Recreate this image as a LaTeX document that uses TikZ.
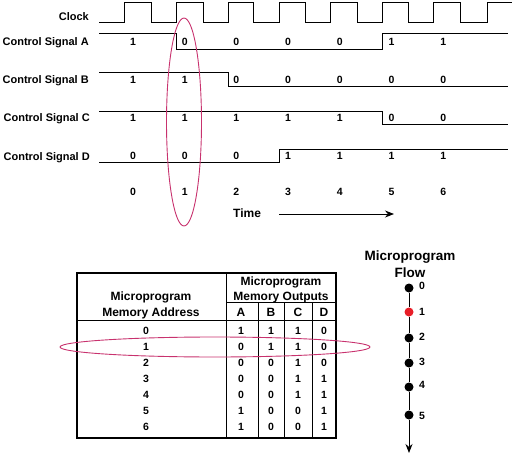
\documentclass[tikz,border=0pt]{standalone}
\usepackage{fontspec}
\setmainfont{Liberation Sans}
\usetikzlibrary{arrows.meta}
\definecolor{ellc}{RGB}{200,50,110}
\definecolor{redc}{RGB}{232,30,40}
\begin{document}
\begin{tikzpicture}[x=1pt,y=-1pt,
  lbl/.style={font=\fontsize{11}{13}\selectfont\bfseries, inner sep=0pt, text height=7.9pt, text depth=0pt},
  dig/.style={font=\fontsize{10.5}{12}\selectfont\bfseries, inner sep=0pt, text height=7.5pt, text depth=0pt},
  hdr/.style={font=\fontsize{12}{14}\selectfont\bfseries, inner sep=0pt, text height=8.6pt, text depth=0pt},
  ttl/.style={font=\fontsize{13.5}{15}\selectfont\bfseries, inner sep=0pt, text height=9.7pt, text depth=0pt},
  wave/.style={line width=0.9pt, line join=miter},
  thin/.style={line width=0.9pt},
  ring/.style={draw=ellc, line width=0.9pt},
  dot/.style={circle, fill=black, minimum size=9pt, inner sep=0pt},
  reddot/.style={circle, fill=redc, minimum size=9pt, inner sep=0pt}]
\useasboundingbox (0,0) rectangle (512,455);
% ---- labels
\node[lbl, anchor=east] (lclk) at (89,17) {Clock};
\node[lbl, anchor=east] (lA) at (89,42) {Control Signal A};
\node[lbl, anchor=east] (lB) at (89,80) {Control Signal B};
\node[lbl, anchor=east] (lC) at (90,118) {Control Signal C};
\node[lbl, anchor=east] (lD) at (90,157) {Control Signal D};
% ---- clock
\draw[wave] (99,22) -- (124,22) -- (124,2) -- (151,2) -- (151,22)
  -- (176,22) -- (176,2) -- (203,2) -- (203,22)
  -- (228,22) -- (228,2) -- (253,2) -- (253,22)
  -- (279,22) -- (279,2) -- (305,2) -- (305,22)
  -- (330,22) -- (330,2) -- (357,2) -- (357,22)
  -- (382,22) -- (382,2) -- (408,2) -- (408,22)
  -- (433,22) -- (433,2) -- (460,2) -- (460,22)
  -- (487,22) -- (487,2) -- (512,2);
% ---- signals
\draw[wave] (99,33) -- (176,33) -- (176,49) -- (382,49) -- (382,33) -- (508,33);
\draw[wave] (99,72) -- (228,72) -- (228,86) -- (508,86);
\draw[wave] (99,111) -- (382,111) -- (382,124) -- (508,124);
\draw[wave] (99,162) -- (279,162) -- (279,149) -- (508,149);
% ---- values
\foreach \i/\a/\b/\c/\d in {0/1/1/1/0,1/0/1/1/0,2/0/0/1/0,3/0/0/1/1,4/0/0/1/1,5/1/0/0/1,6/1/0/0/1}{
  \pgfmathsetmacro{\xx}{133+51.7*\i}
  \node[dig] (a\i) at (\xx,42) {\a};
  \node[dig] (b\i) at (\xx,80) {\b};
  \node[dig] (c\i) at (\xx,118) {\c};
  \node[dig] (d\i) at (\xx,156) {\d};
  \node[dig] (t\i) at (\xx,192) {\i};
}
% ---- time arrow
\node[hdr, anchor=west] (time) at (233,213) {Time};
\coordinate (ta) at (279,214);
\coordinate (tb) at (394,214);
\draw[thin, -{Stealth[length=9pt,width=7pt]}] (ta) -- (tb);
% ---- vertical ellipse
\draw[ring] (184,122) ellipse [x radius=17.5pt, y radius=104pt];
% ---- table
\draw[line width=1.9pt] (77,273) rectangle (336,438);
\draw[thin] (226,273) -- (226,438);
\draw[thin] (226,302) -- (336,302);
\draw[thin] (77,320) -- (336,320);
\foreach \xx in {258,284,312}{ \draw[thin] (\xx,302) -- (\xx,438); }
\node[hdr] (h1) at (151,296) {Microprogram};
\node[hdr] (h2) at (151,312) {Memory Address};
\node[hdr] (h3) at (281,281) {Microprogram};
\node[hdr] (h4) at (281,296) {Memory Outputs};
\node[hdr] (hA) at (241,312) {A};
\node[hdr] (hB) at (271,312) {B};
\node[hdr] (hC) at (298,312) {C};
\node[hdr] (hD) at (324,312) {D};
\foreach \i/\a/\b/\c/\d in {0/1/1/1/0,1/0/1/1/0,2/0/0/1/0,3/0/0/1/1,4/0/0/1/1,5/1/0/0/1,6/1/0/0/1}{
  \pgfmathsetmacro{\yy}{331+16*\i}
  \node[dig] (ra\i) at (146,\yy) {\i};
  \node[dig] (rA\i) at (241,\yy) {\a};
  \node[dig] (rB\i) at (271,\yy) {\b};
  \node[dig] (rC\i) at (298,\yy) {\c};
  \node[dig] (rD\i) at (324,\yy) {\d};
}
% ---- horizontal ellipse
\draw[ring] (215,347) ellipse [x radius=155pt, y radius=10pt];
% ---- flow
\node[ttl] (ft1) at (410,256) {Microprogram};
\node[ttl] (ft2) at (410,273) {Flow};
\coordinate (fend) at (409,453);
\node[dot] (f0) at (409,288) {};
\node[reddot] (f1) at (409,312) {};
\node[dot] (f2) at (409,338) {};
\node[dot] (f3) at (409,363) {};
\node[dot] (f4) at (409,387) {};
\node[dot] (f5) at (409,415) {};
\draw[thin] (f0) -- (f1) -- (f2) -- (f3) -- (f4) -- (f5);
\draw[thin, -{Stealth[length=9pt,width=7pt]}] (f5) -- (fend);
\foreach \k/\yy in {0/286,1/312,2/337,3/362,4/385,5/416}{
  \node[dig, anchor=west] (fl\k) at (419,\yy) {\k};
}
\end{tikzpicture}
\end{document}
